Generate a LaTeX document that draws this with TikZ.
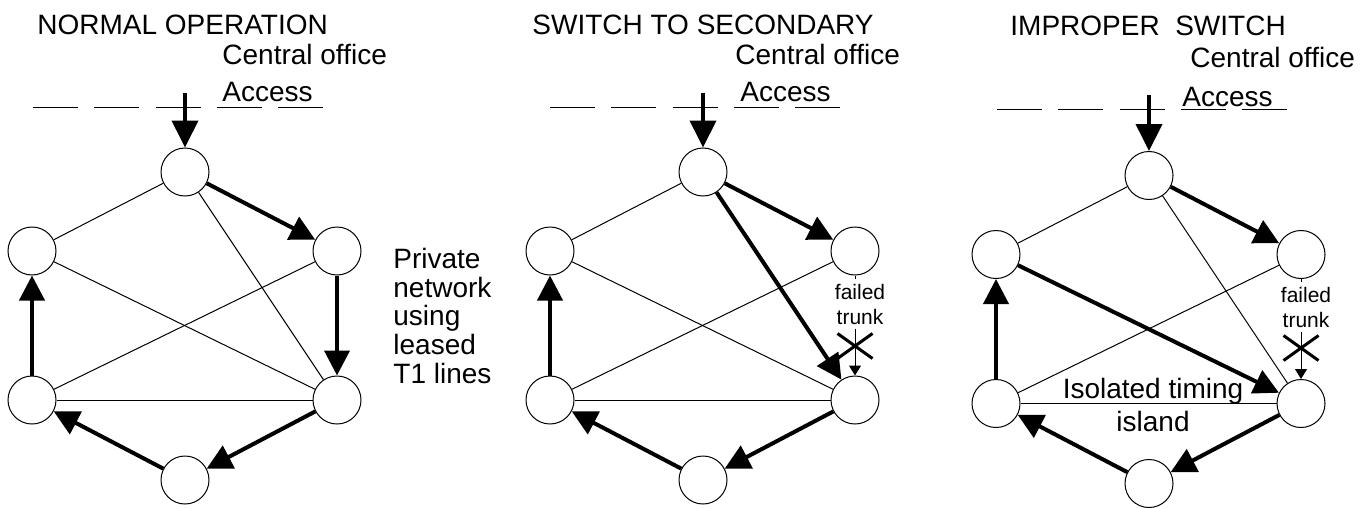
\documentclass[tikz,border=0pt]{standalone}
\usepackage{fontspec}
\setmainfont{Liberation Sans}
\usetikzlibrary{arrows.meta,shapes.misc}

\begin{document}
\begin{tikzpicture}[x=0.5pt,y=-0.5pt,
			sitenode/.style={circle, draw, line width=0.5pt, fill=white, inner sep=0pt, minimum size=24pt},
			trunk/.style={line width=0.5pt},
			timing/.style={line width=2pt, -{Triangle[length=12.5pt,width=12.5pt]}},
			feed/.style={line width=2pt, -{Triangle[length=13.5pt,width=13pt]}},
			failed/.style={line width=0.5pt, -{Triangle[length=5pt,width=6pt]}},
			access/.style={line width=0.5pt, dash pattern=on 22.5pt off 8.125pt},
			title/.style={anchor=base west, inner sep=0pt, font=\fontsize{14pt}{16pt}\selectfont},
			note/.style={inner sep=0pt, align=center, font=\fontsize{14pt}{16.5pt}\selectfont},
			failnote/.style={fill=white, align=center, inner xsep=1pt, inner ysep=2.5pt, font=\fontsize{10.5pt}{12.5pt}\selectfont},
			cut/.style={cross out, draw, line width=1.5pt, inner sep=0pt, minimum width=16pt, minimum height=11pt},
			]
			\useasboundingbox (0,0) rectangle (1368,508);

			%Panel 1
			\node[title] (head1) at (37,35) {NORMAL OPERATION};
			\node[title] (co1)   at (222,65) {Central office};
			\node[title] (acc1)  at (222,102) {Access};
			\coordinate (dash1w) at (33,107);
			\coordinate (dash1e) at (323,107);
			\coordinate (in1)    at (185,93);

			\node[sitenode] (top1) at (185,172) {};
			\node[sitenode] (ul1)  at (32,251)  {};
			\node[sitenode] (ur1)  at (337,251) {};
			\node[sitenode] (ll1)  at (32,400)  {};
			\node[sitenode] (lr1)  at (337,400) {};
			\node[sitenode] (bot1) at (185,480) {};

			\node[title, anchor=north west, align=left, font=\fontsize{14pt}{14.3pt}\selectfont] (priv) at (393,248) {Private\\network\\using\\leased\\T1 lines};

			\draw[access] (dash1w) -- (dash1e);
			\draw[feed] (in1) -- (top1);
			\draw[trunk] (top1) -- (ul1);
			\draw[trunk] (top1) -- (lr1);
			\draw[trunk] (ul1) -- (lr1);
			\draw[trunk] (ur1) -- (ll1);
			\draw[trunk] (ll1) -- (lr1);
			\draw[timing] (top1) -- (ur1);
			\draw[timing] (ur1) -- (lr1);
			\draw[timing] (lr1) -- (bot1);
			\draw[timing] (bot1) -- (ll1);
			\draw[timing] (ll1) -- (ul1);

			%Panel 2
			\node[title] (head2) at (532,35) {SWITCH TO SECONDARY};
			\node[title] (co2)   at (735,65) {Central office};
			\node[title] (acc2)  at (740,102) {Access};
			\coordinate (dash2w) at (550,107);
			\coordinate (dash2e) at (842,107);
			\coordinate (in2)    at (703,93);

			\node[sitenode] (top2) at (703,172) {};
			\node[sitenode] (ul2)  at (550,251) {};
			\node[sitenode] (ur2)  at (855,251) {};
			\node[sitenode] (ll2)  at (550,400) {};
			\node[sitenode] (lr2)  at (855,400) {};
			\node[sitenode] (bot2) at (703,480) {};

			\draw[access] (dash2w) -- (dash2e);
			\draw[feed] (in2) -- (top2);
			\draw[trunk] (top2) -- (ul2);
			\draw[trunk] (ul2) -- (lr2);
			\draw[trunk] (ur2) -- (ll2);
			\draw[trunk] (ll2) -- (lr2);
			\draw[timing] (top2) -- (ur2);
			\draw[timing] (top2) -- (lr2);
			\draw[timing] (lr2) -- (bot2);
			\draw[timing] (bot2) -- (ll2);
			\draw[timing] (ll2) -- (ul2);
			\draw[failed] (ur2) -- (lr2);
			\node[failnote] (fail2) at (860,304) {failed\\trunk};
			\node[cut] (x2) at (855,346) {};

			%Panel 3
			\node[title] (head3) at (1010,36) {IMPROPER\ \ SWITCH};
			\node[title] (co3)   at (1190,68) {Central office};
			\node[title] (acc3)  at (1182,106) {Access};
			\coordinate (dash3w) at (997,109);
			\coordinate (dash3e) at (1287,109);
			\coordinate (in3)    at (1149,95);

			\node[sitenode] (top3) at (1149,175.5) {};
			\node[sitenode] (ul3)  at (996,254.5)  {};
			\node[sitenode] (ur3)  at (1301,254.5) {};
			\node[sitenode] (ll3)  at (996,403.5)  {};
			\node[sitenode] (lr3)  at (1301,403.5) {};
			\node[sitenode] (bot3) at (1149,483.5) {};

			\draw[access] (dash3w) -- (dash3e);
			\draw[feed] (in3) -- (top3);
			\draw[trunk] (top3) -- (ul3);
			\draw[trunk] (top3) -- (lr3);
			\draw[trunk] (ur3) -- (ll3);
			\draw[trunk] (ll3) -- (lr3);
			\draw[timing] (top3) -- (ur3);
			\draw[timing] (ul3) -- (lr3);
			\draw[timing] (lr3) -- (bot3);
			\draw[timing] (bot3) -- (ll3);
			\draw[timing] (ll3) -- (ul3);
			\draw[failed] (ur3) -- (lr3);
			\node[failnote] (fail3) at (1306,307) {failed\\trunk};
			\node[cut] (x3) at (1301,348) {};
			\node[note] (island) at (1153,405) {Isolated timing\\island};
		\end{tikzpicture}
\end{document}
